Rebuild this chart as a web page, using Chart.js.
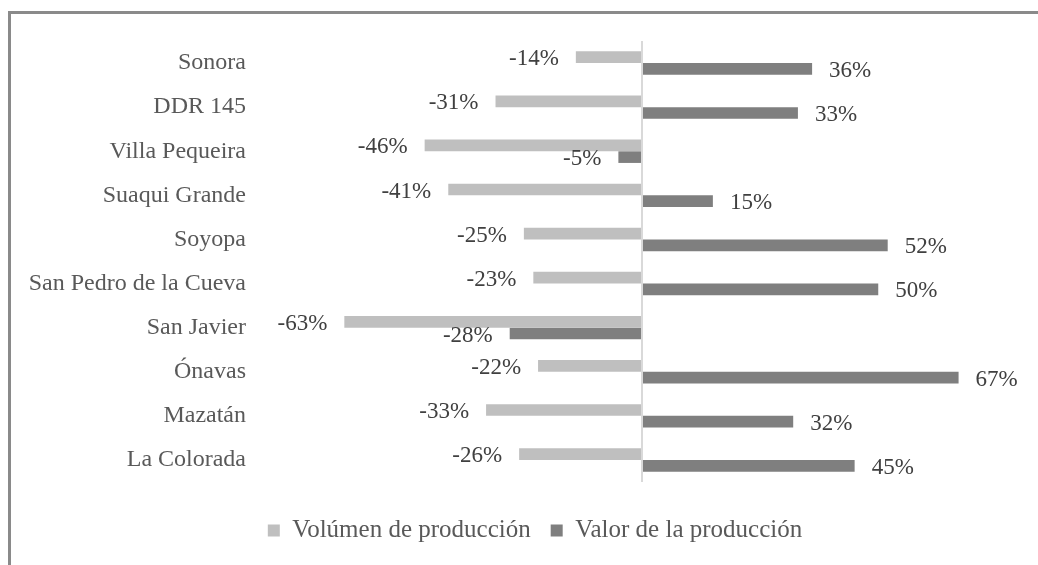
<!DOCTYPE html>
<html>
<head>
<meta charset="utf-8">
<script src="https://cdn.jsdelivr.net/npm/chart.js@4"></script>
<style>
    body { margin: 0; background: #fff; overflow: hidden; }
    .frame {
        position: absolute;
        left: 8px;
        top: 11px;
        width: 1100px;
        height: 700px;
        border-left: 3px solid #8a8a8a;
        border-top: 3px solid #8a8a8a;
    }
    #chart { position: absolute; left: 0; top: 0; }
</style>
</head>
<body>
<div class="frame"></div>
<canvas id="chart" width="1038" height="565"></canvas>
<script>
// categories, top to bottom
const municipios = [
    "Sonora",
    "DDR 145",
    "Villa Pequeira",
    "Suaqui Grande",
    "Soyopa",
    "San Pedro de la Cueva",
    "San Javier",
    "Ónavas",
    "Mazatán",
    "La Colorada",
];

const volumen = [-14, -31, -46, -41, -25, -23, -63, -22, -33, -26];
const valor = [36, 33, -5, 15, 52, 50, -28, 67, 32, 45];

const FONT = "'Liberation Serif', 'Times New Roman', serif";

// data labels at the outer end of each bar
const barLabels = {
    id: "barLabels",
    afterDatasetsDraw(chart) {
        const ctx = chart.ctx;
        ctx.save();
        ctx.font = "23px " + FONT;
        ctx.fillStyle = "#404040";
        ctx.textBaseline = "middle";
        chart.data.datasets.forEach((ds, i) => {
            const meta = chart.getDatasetMeta(i);
            meta.data.forEach((bar, j) => {
                const v = ds.data[j];
                const txt = v + "%";
                if (v >= 0) {
                    ctx.textAlign = "left";
                    ctx.fillText(txt, bar.x + 17, bar.y + 2);
                } else {
                    ctx.textAlign = "right";
                    ctx.fillText(txt, bar.x - 17, bar.y + 2);
                }
            });
        });
        ctx.restore();
    },
};

// legend sits a bit right of the canvas centre in the original
const shiftLegend = {
    id: "shiftLegend",
    afterLayout(chart) {
        chart.legend.left += 25;
        chart.legend.right += 25;
    },
};

new Chart(document.getElementById("chart"), {
    type: "bar",

    data: {
        labels: municipios,

        datasets: [
            {
                label: "Volúmen de producción",
                data: volumen,
                backgroundColor: "#bfbfbf",
            },
            {
                label: "Valor de la producción",
                data: valor,
                backgroundColor: "#7f7f7f",
            },
        ],
    },

    options: {
        indexAxis: "y",
        responsive: false,
        animation: false,
        categoryPercentage: 0.53,
        barPercentage: 1,

        layout: {
            padding: { top: 41, left: 0, right: 18, bottom: 12 },
        },

        plugins: {
            legend: {
                position: "bottom",
                labels: {
                    boxWidth: 12,
                    boxHeight: 12,
                    padding: 20,
                    color: "#595959",
                    font: { family: FONT, size: 25 },
                },
            },
            tooltip: { enabled: false },
        },

        scales: {
            x: {
                min: -80,
                max: 80,
                ticks: { display: false, stepSize: 20 },
                border: { display: false },
                grid: {
                    drawTicks: false,
                    lineWidth: 2,
                    color: (c) => (c.tick && c.tick.value === 0 ? "#d9d9d9" : "rgba(0,0,0,0)"),
                },
                afterFit(scale) {
                    scale.height = 16;
                },
            },
            y: {
                border: { display: false },
                grid: { display: false, drawTicks: false },
                ticks: {
                    padding: 18,
                    color: "#595959",
                    font: { family: FONT, size: 24 },
                },
                afterFit(scale) {
                    scale.width = 264;
                },
            },
        },
    },

    plugins: [barLabels, shiftLegend],
});
</script>
</body>
</html>
